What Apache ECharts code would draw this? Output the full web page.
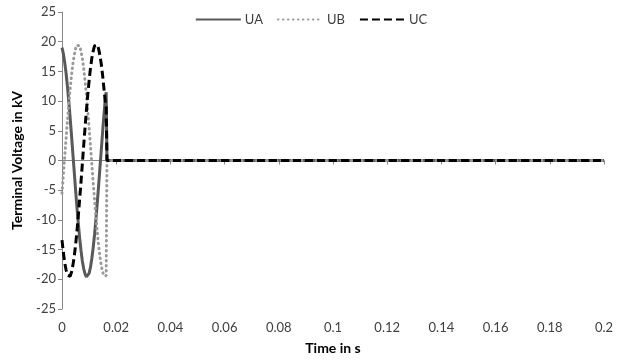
<!DOCTYPE html>
<html>
<head>
<meta charset="utf-8">
<script src="https://cdn.jsdelivr.net/npm/echarts@6/dist/echarts.min.js"></script>
<style>
  html, body { margin: 0; padding: 0; background: #fff; }
  #chart { width: 622px; height: 360px; }
</style>
</head>
<body>
<div id="chart"></div>
<script>
// time samples in s
var times = [0, 0.0005, 0.001, 0.0015, 0.002, 0.0025, 0.003, 0.0035, 0.004, 0.0045,
  0.005, 0.0055, 0.006, 0.0065, 0.007, 0.0075, 0.008, 0.0085, 0.009, 0.0095,
  0.01, 0.0105, 0.011, 0.0115, 0.012, 0.0125, 0.013, 0.0135, 0.014, 0.0145,
  0.015, 0.0155, 0.016, 0.0163, 0.0166, 0.2]
// terminal voltages in kV
var ua = [19.0, 18.0, 16.5, 14.7, 12.5, 10.0, 7.2, 4.3, 1.2, -1.8,
  -4.9, -7.8, -10.5, -13.0, -15.1, -16.9, -18.2, -19.1, -19.6, -19.5,
  -19.0, -18.0, -16.5, -14.7, -12.5, -10.0, -7.2, -4.3, -1.2, 1.8,
  4.9, 7.8, 10.5, 11.5, 0, 0]
var ub = [-5.5, -2.5, 0.6, 3.7, 6.6, 9.4, 12.0, 14.3, 16.2, 17.7,
  18.8, 19.4, 19.6, 19.3, 18.4, 17.2, 15.5, 13.4, 11.0, 8.4,
  5.5, 2.5, -0.6, -3.7, -6.6, -9.4, -12.0, -14.3, -16.2, -17.7,
  -18.8, -19.4, -19.6, -19.4, 0, 0]
var uc = [-13.4, -15.5, -17.2, -18.4, -19.3, -19.6, -19.5, -18.8, -17.7, -16.2,
  -14.3, -12.0, -9.4, -6.6, -3.7, -0.6, 2.5, 5.5, 8.4, 11.0,
  13.4, 15.5, 17.2, 18.4, 19.3, 19.6, 19.5, 18.8, 17.7, 16.2,
  14.3, 12.0, 9.8, 9.0, 0, 0]
var xTicks = [0, 0.02, 0.04, 0.06, 0.08, 0.1, 0.12, 0.14, 0.16, 0.18, 0.2]

function pairs (vals) {
  return times.map(function (t, i) { return [t, vals[i]] })
}

var font = 'Lato, "Open Sans", sans-serif'
var chart = echarts.init(document.getElementById('chart'))
chart.setOption({
  animation: false,
  textStyle: { fontFamily: font },
  legend: {
    top: 8,
    left: 'center',
    itemWidth: 45,
    itemHeight: 10,
    itemGap: 14,
    itemStyle: { opacity: 0, borderWidth: 0 },
    textStyle: { fontSize: 13, color: '#404040', fontFamily: font, padding: [0, 0, 0, -1] },
    data: ['UA', 'UB', 'UC']
  },
  grid: { left: 62, right: 18, top: 12, bottom: 51 },
  xAxis: [
    {
      type: 'value',
      min: 0,
      max: 0.2,
      interval: 0.02,
      position: 'bottom',
      axisLine: { show: false, onZero: false },
      axisTick: { show: false },
      splitLine: { show: false },
      axisLabel: {
        margin: 12,
        color: '#404040',
        fontSize: 13,
        fontFamily: font,
        formatter: function (v) {
          return xTicks.indexOf(v) >= 0 || Math.abs(v) < 1e-9 ? String(+v.toFixed(2)) : ''
        }
      },
      name: 'Time in s',
      nameLocation: 'middle',
      nameGap: 32,
      nameTextStyle: { fontWeight: 'bold', fontSize: 14, color: '#000', fontFamily: font }
    },
    {
      type: 'value',
      min: 0,
      max: 0.2,
      interval: 0.02,
      position: 'top',
      axisLine: { show: true, onZero: true, lineStyle: { color: '#888', width: 1 } },
      axisTick: { show: true, inside: true, length: 4, lineStyle: { color: '#888' } },
      axisLabel: { show: false },
      splitLine: { show: false }
    }
  ],
  yAxis: {
    type: 'value',
    min: -25,
    max: 25,
    interval: 5,
    axisLine: { show: true, onZero: false, lineStyle: { color: '#888', width: 1 } },
    axisTick: { show: true, length: 4, lineStyle: { color: '#888' } },
    splitLine: { show: false },
    axisLabel: { color: '#404040', fontSize: 13, margin: 6, fontFamily: font },
    name: 'Terminal Voltage in kV',
    nameLocation: 'middle',
    nameGap: 38,
    nameTextStyle: { fontWeight: 'bold', fontSize: 14, color: '#000', fontFamily: font }
  },
  series: [
    {
      name: 'UA',
      type: 'line',
      data: pairs(ua),
      showSymbol: false,
      symbol: 'none',
      color: '#595959',
      lineStyle: { width: 3, color: '#595959', type: 'solid' }
    },
    {
      name: 'UB',
      type: 'line',
      data: pairs(ub),
      showSymbol: false,
      symbol: 'none',
      color: '#9a9a9a',
      lineStyle: { width: 3, color: '#9a9a9a', type: [0.5, 4.5], cap: 'round' }
    },
    {
      name: 'UC',
      type: 'line',
      data: pairs(uc),
      showSymbol: false,
      symbol: 'none',
      color: '#000',
      lineStyle: { width: 3, color: '#000', type: [8, 4] }
    }
  ]
})
</script>
</body>
</html>
